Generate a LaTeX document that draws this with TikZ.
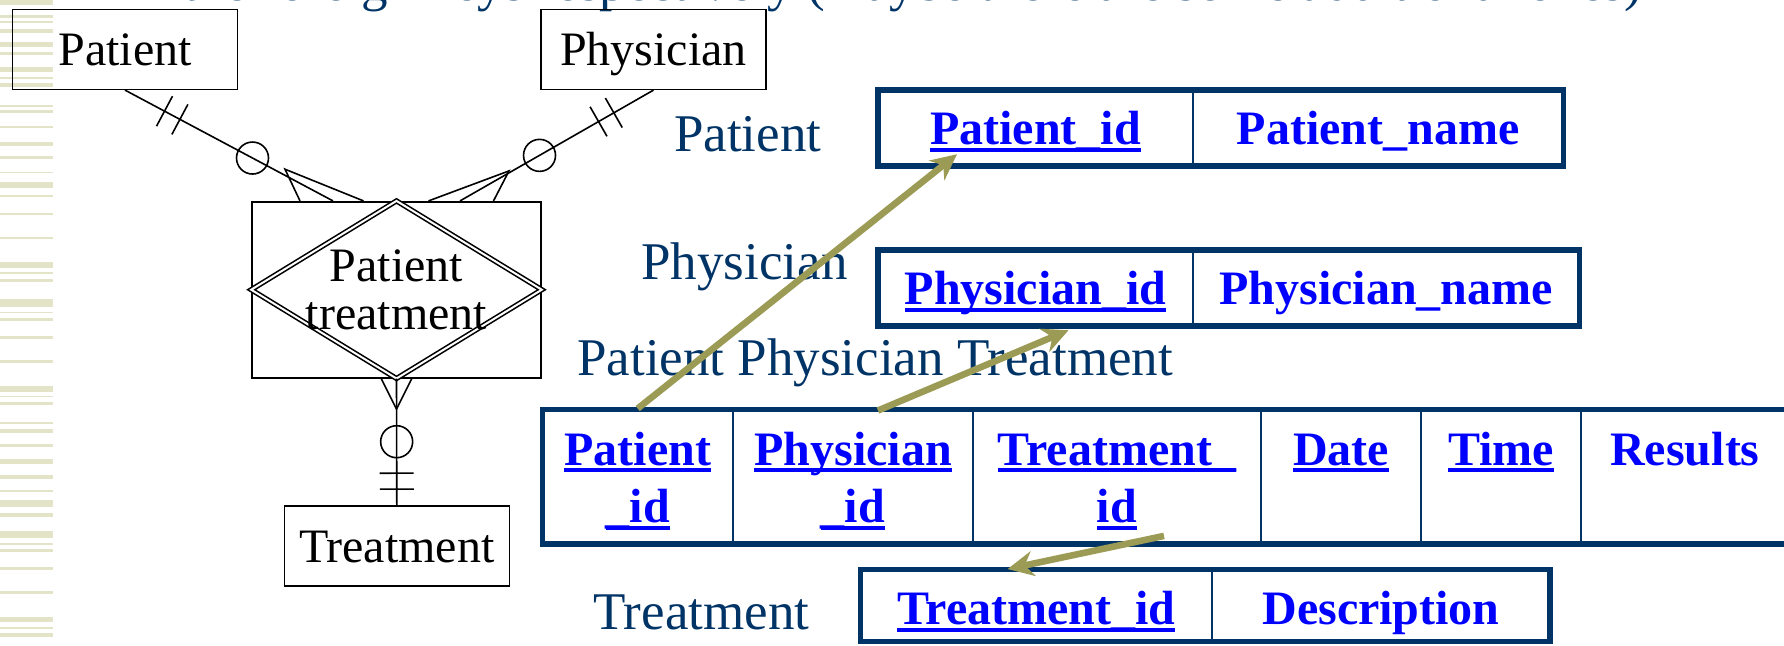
\documentclass[tikz,border=0pt]{standalone}
\usepackage{fontspec}
\setmainfont{Liberation Serif}
\usetikzlibrary{calc}
\usetikzlibrary{arrows.meta}

\definecolor{slideblue}{RGB}{0,51,102}
\definecolor{keyblue}{RGB}{0,0,255}
\definecolor{fkolive}{RGB}{155,155,85}
\definecolor{stripe}{RGB}{227,227,200}

\newcommand{\ulkey}[1]{\setbox0=\hbox{#1}\rlap{\rule[-3.6pt]{\wd0}{1.9pt}}\box0}

\begin{document}
\begin{tikzpicture}[x=0.5pt,y=0.5pt,yscale=-1,xscale=1,
  erline/.style={line width=0.8pt},
  entity/.style={draw, erline, minimum width=112.5pt, minimum height=40pt, inner sep=0pt, font=\fontsize{24}{24}\selectfont, text height=16.5pt, text depth=0pt},
  ring/.style={draw, erline, circle, inner sep=0pt, minimum size=16pt},
  relname/.style={anchor=base west, inner sep=0pt, text=slideblue, font=\fontsize{26.5}{30}\selectfont},
  tcell/.style={draw=slideblue, line width=1pt, inner sep=0pt, text=keyblue, font=\fontsize{24}{28.8}\selectfont\bfseries, text height=16.5pt, text depth=0pt},
  ptcell/.style={tcell, minimum height=67.2pt, text depth=28.2pt},
  tblborder/.style={draw=slideblue, line width=2.8pt},
  fk/.style={draw=fkolive, line width=3.3pt, -{Stealth[length=13pt,width=12.5pt]}}
]
\useasboundingbox (0,0) rectangle (1784,645);
\clip (0,0) rectangle (1784,645);

%Shape: Stripes
\foreach \ya/\yb in {0/5, 15/18.3, 20.7/22.7, 29.3/33.3, 41.7/46.7, 51.7/55, 66.7/71.7, 76.7/79.3, 82.7/86.7, 105/106.7, 110/113.3, 126/128.3, 141.7/145.7, 156/159.3, 171.7/173.3, 181.7/188.3, 195/197.3, 213.3/215, 237.3/239.3, 262/268, 272/274, 279/282, 299/307, 312/313, 318/321, 336/339, 360/363, 386/392, 396/397, 402/405, 422/424, 429/433, 444/447, 459/464, 475/479, 490/492, 500/507, 513/517, 531/538, 543/545, 549/552, 567/570, 591/594, 617/622, 627/629, 633/637}
  \fill[stripe] (0,\ya) rectangle (53,\yb);

% Text Node
\node[relname] (heading) at (183,0) {the foreign keys respectively (maybe there are some additional ones)};

%Shape: Entities
\node[entity] (patient) at (125,49.3) {Patient};
\node[entity] (physician) at (653.5,49.3) {Physician};
\node[entity] (treatment) at (396.8,545.7) {Treatment};
\node[draw, erline, minimum width=144.5pt, minimum height=88pt, inner sep=0pt] (rel) at (396.5,289.7) {};
%Shape: Diamond
\draw[erline, double, double distance=1pt] (rel.north) -- (rel.east) -- (rel.south) -- (rel.west) -- cycle;
\node[align=center, font=\fontsize{24}{24}\selectfont, inner sep=0pt] (reltext) at (rel.center) {Patient\\treatment};

\coordinate (pfoot) at ($(rel.north)+(-63.5,0)$);
\coordinate (hfoot) at ($(rel.north)+(63.5,0)$);
\coordinate (pt1) at ($(patient.south)!0.19!(pfoot)$);
\coordinate (pt2) at ($(patient.south)!0.264!(pfoot)$);
\coordinate (ph1) at ($(physician.south)!0.205!(hfoot)$);
\coordinate (ph2) at ($(physician.south)!0.284!(hfoot)$);
\coordinate (tr1) at ($(rel.south)!0.749!(treatment.north)$);
\coordinate (tr2) at ($(rel.south)!0.875!(treatment.north)$);

%Straight Lines
\draw[erline] (patient.south) -- (pfoot);
\draw[erline] ($(rel.north)+(-96.5,0)$) -- ($(rel.north)+(-111.5,-31.7)$) -- ($(rel.north)+(-33,0)$);
\draw[erline] (physician.south) -- (hfoot);
\draw[erline] ($(rel.north)+(32,0)$) -- ($(rel.north)+(112.5,-30)$) -- ($(rel.north)+(97,0)$);
\draw[erline] (rel.south) -- (treatment.north);
\draw[erline] ($(rel.south)+(-15.3,0)$) -- ($(rel.south)+(0,30.6)$) -- ($(rel.south)+(15.3,0)$);
% ticks and rings
\foreach \c/\t in {pt1/pfoot, pt2/pfoot, ph1/hfoot, ph2/hfoot, tr1/treatment.north, tr2/treatment.north}
  \draw[erline] ($(\c)!8.5pt!90:(\t)$) -- ($(\c)!8.5pt!-90:(\t)$);
\node[ring] (pr) at ($(patient.south)!0.613!(pfoot)$) {};
\node[ring] (phr) at ($(physician.south)!0.589!(hfoot)$) {};
\node[ring] (trr) at ($(rel.south)!0.5!(treatment.north)$) {};

% Text Node
\node[relname] (lblpatient) at (673.6,151) {Patient};
\node[relname] (lblphysician) at (641,279) {Physician};
\node[relname] (lblppt) at (577,375.5) {Patient Physician Treatment};
\node[relname] (lbltreatment) at (593,629.5) {Treatment};

%Shape: Table Patient
\node[tcell, minimum width=157.5pt, minimum height=37.85pt] (pac1) at (1035.5,127.8) {\ulkey{Patient\_id}};
\node[tcell, minimum width=185.25pt, minimum height=37.85pt] (pac2) at (1378.25,127.8) {Patient\_name};
\draw[tblborder] (878,90) rectangle (1563.5,165.7);

%Shape: Table Physician
\node[tcell, minimum width=157.5pt, minimum height=37.85pt] (phc1) at (1035.5,287.8) {\ulkey{Physician\_id}};
\node[tcell, minimum width=193.25pt, minimum height=37.85pt] (phc2) at (1386.25,287.8) {Physician\_name};
\draw[tblborder] (878,250) rectangle (1579.5,325.7);

%Shape: Table Patient Physician Treatment
\node[ptcell, minimum width=95.3pt] (pp1) at (637.7,476.7) {\begin{tabular}[t]{@{}c@{}}\ulkey{Patient}\\\ulkey{\_id}\end{tabular}};
\node[ptcell, minimum width=120pt] (pp2) at (853,476.7) {\begin{tabular}[t]{@{}c@{}}\ulkey{Physician}\\\ulkey{\_id}\end{tabular}};
\node[ptcell, minimum width=144pt] (pp3) at (1117,476.7) {\begin{tabular}[t]{@{}c@{}}\ulkey{Treatment\_}\\\ulkey{id}\end{tabular}};
\node[ptcell, minimum width=80pt] (pp4) at (1341,476.7) {\ulkey{Date}};
\node[ptcell, minimum width=80pt] (pp5) at (1501,476.7) {\ulkey{Time}};
\node[ptcell, minimum width=104pt] (pp6) at (1685,476.7) {Results};
\draw[tblborder] (542.4,409.5) rectangle (1789,543.9);

%Shape: Table Treatment
\node[tcell, minimum width=175.75pt, minimum height=35.95pt, text height=19pt] (trc1) at (1036.25,605.4) {\ulkey{Treatment\_id}};
\node[tcell, minimum width=169pt, minimum height=35.95pt, text height=19pt] (trc2) at (1381,605.4) {Description};
\draw[tblborder] (860.5,569.4) rectangle (1550,641.3);

%Straight Lines (foreign keys)
\draw[fk] (pp1.north) -- ($(pac1.south)+(-78.5,-12.4)$);
\draw[fk] ($(pp2.north)+(25,2)$) -- ($(phc1.south)+(33,3.6)$);
\draw[fk] ($(pp3.south)+(47,-9)$) -- ($(trc1.north)+(-28.7,0.6)$);

\end{tikzpicture}
\end{document}
